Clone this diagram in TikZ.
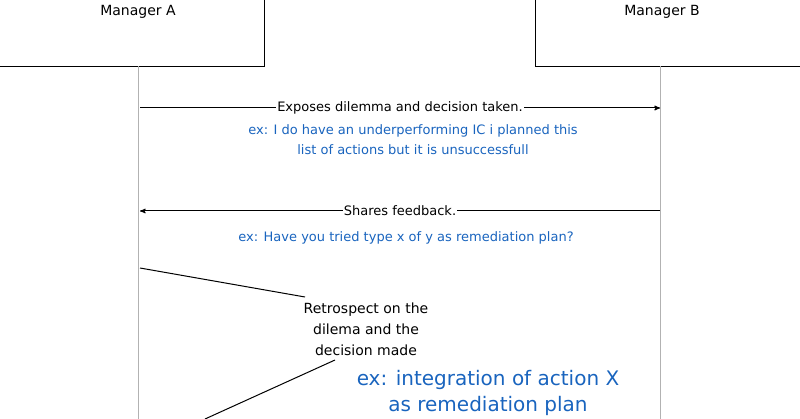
\documentclass[tikz,border=0pt]{standalone}
\usepackage{fontspec}
\setmainfont{DejaVu Sans}
\usetikzlibrary{arrows,positioning}
\tikzset{>=stealth'}
\definecolor{exblue}{RGB}{25,100,190}
\tikzset{actor/.style={draw,thick,minimum width=265pt,minimum height=90pt},
  life/.style={draw=black!30},
  msg/.style={font=\fontsize{13}{15}\selectfont,fill=white,inner sep=1pt},
  note/.style={font=\fontsize{13}{20}\selectfont,text=exblue,align=center},
  bignote/.style={font=\fontsize{20}{26}\selectfont,text=exblue,align=center}}
\begin{document}
\begin{tikzpicture}[x=1pt,y=-1pt,line width=1pt]
\useasboundingbox (0,0) rectangle (800,419);
        \node[actor] (ma) at (132,21) {};
        \node[font=\fontsize{14}{16}\selectfont] (mal) at (138,12) {Manager A};
        \node[actor] (mb) at (668,21) {};
        \node[font=\fontsize{14}{16}\selectfont] (mbl) at (662,12) {Manager B};
        \coordinate (la) at (138,66);
        \coordinate (lb) at (660,66);
        \coordinate (la2) at (138,419);
        \coordinate (lb2) at (660,419);
        \draw[life,line width=0.6pt] (la) -- (la2);
        \draw[life,line width=0.6pt] (lb) -- (lb2);
        % messages
        \coordinate (m1a) at (140,108);
        \coordinate (m1b) at (660,108);
        \draw[->] (m1a) -- node[msg] (m1) {Exposes dilemma and decision taken.} (m1b);
        \node[note] (n1) at (413,140) {ex: I do have an underperforming IC i planned this\\list of actions but it is unsuccessfull};
        \coordinate (m2a) at (660,211);
        \coordinate (m2b) at (140,211);
        \draw[->] (m2a) -- node[msg] (m2) {Shares feedback.} (m2b);
        \node[note] (n2) at (406,238) {ex: Have you tried type x of y as remediation plan?};
        % self reflection
        \node[font=\fontsize{14}{21}\selectfont,align=center] (r) at (366,329) {Retrospect on the\\dilema and the\\decision made};
        \coordinate (s1) at (140,268);
        \coordinate (s2) at (305,297);
        \coordinate (s3) at (335,360);
        \coordinate (s4) at (205,419);
        \draw (s1) -- (s2);
        \draw (s3) -- (s4);
        \node[bignote] (n3) at (488,393) {ex: integration of action X\\as remediation plan};
\end{tikzpicture}
\end{document}
